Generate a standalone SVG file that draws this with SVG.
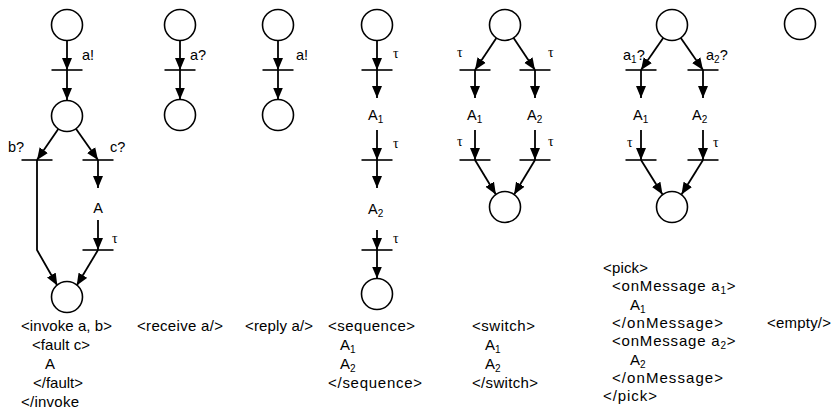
<svg xmlns="http://www.w3.org/2000/svg" width="832" height="413" viewBox="0 0 832 413">
  <defs>
    <marker id="arrow" markerUnits="userSpaceOnUse" markerWidth="12" markerHeight="11" refX="12" refY="5.5" orient="auto">
      <path d="M0,0.5 L12,5.5 L0,10.5 z" fill="#000"/>
    </marker>
  </defs>
  <style>
    .place{fill:#fff;stroke:#000;stroke-width:1.6}
    .bar{stroke:#000;stroke-width:1.6}
    .arc{fill:none;stroke:#000;stroke-width:1.8;marker-end:url(#arrow)}
    text{font-family:"Liberation Sans",Arial,sans-serif;font-size:15px;fill:#000}
    .lbl{font-size:14.5px}
    .tau{font-family:"Liberation Serif","DejaVu Serif",serif;font-size:14px}
    .sub{font-size:10px}
    .mid{text-anchor:middle}
  </style>

  <rect width="832" height="413" fill="#fff"/>

  <!-- connectors -->
  <g id="connectors">
    <!-- invoke -->
    <path class="arc" d="M67,40.5 L67,70"/>
    <path class="arc" d="M67,70 L67,100"/>
    <path class="arc" d="M58.6,128.4 L37,160"/>
    <path class="arc" d="M75.6,128.2 L98,160"/>
    <path class="arc" d="M37,160 L37,250 L57.3,285.5"/>
    <path class="arc" d="M98,160 L98,188"/>
    <path class="arc" d="M98,220 L98,250"/>
    <path class="arc" d="M98,250 L76.7,285.5"/>
    <!-- receive -->
    <path class="arc" d="M180,40.5 L180,70"/>
    <path class="arc" d="M180,70 L180,99.5"/>
    <!-- reply -->
    <path class="arc" d="M278,40.5 L278,70"/>
    <path class="arc" d="M278,70 L278,99.5"/>
    <!-- sequence -->
    <path class="arc" d="M377,40.5 L377,70"/>
    <path class="arc" d="M377,70 L377,98"/>
    <path class="arc" d="M377,130 L377,160"/>
    <path class="arc" d="M377,160 L377,188"/>
    <path class="arc" d="M377,230 L377,250"/>
    <path class="arc" d="M377,250 L377,278.5"/>
    <!-- switch -->
    <path class="arc" d="M496.7,37.5 L475,70"/>
    <path class="arc" d="M513.3,37.5 L535,70"/>
    <path class="arc" d="M475,70 L475,98"/>
    <path class="arc" d="M535,70 L535,98"/>
    <path class="arc" d="M475,130 L475,160"/>
    <path class="arc" d="M535,130 L535,160"/>
    <path class="arc" d="M475,160 L495.9,194.5"/>
    <path class="arc" d="M535,160 L514.1,194.5"/>
    <!-- pick -->
    <path class="arc" d="M663.5,37.4 L641,70"/>
    <path class="arc" d="M680.5,37.4 L703,70"/>
    <path class="arc" d="M641,70 L641,98"/>
    <path class="arc" d="M703,70 L703,98"/>
    <path class="arc" d="M641,130 L641,160"/>
    <path class="arc" d="M703,130 L703,160"/>
    <path class="arc" d="M641,160 L662.5,194.5"/>
    <path class="arc" d="M703,160 L681.5,194.5"/>
  </g>

  <!-- invoke -->
  <g id="invoke-p1"><circle class="place" cx="67" cy="25" r="15.5"/></g>
  <g id="invoke-t1"><line class="bar" x1="51.5" y1="70" x2="82.5" y2="70"/><text class="lbl" x="82" y="60">a!</text></g>
  <g id="invoke-p2"><circle class="place" cx="67" cy="116" r="15.5"/></g>
  <g id="invoke-tb"><line class="bar" x1="21.5" y1="160" x2="52.5" y2="160"/><text class="lbl" x="8" y="152">b?</text></g>
  <g id="invoke-tc"><line class="bar" x1="82.5" y1="160" x2="113.5" y2="160"/><text class="lbl" x="110" y="152">c?</text></g>
  <g id="invoke-a"><text class="lbl mid" x="98" y="213">A</text></g>
  <g id="invoke-tt"><line class="bar" x1="82.5" y1="250" x2="113.5" y2="250"/><text class="tau" x="112" y="243">τ</text></g>
  <g id="invoke-p3"><circle class="place" cx="67" cy="297" r="15.5"/></g>
  <g id="invoke-code">
    <text x="21" y="331" textLength="91" lengthAdjust="spacing">&lt;invoke a, b&gt;</text>
    <text x="32" y="350" textLength="58" lengthAdjust="spacing">&lt;fault c&gt;</text>
    <text x="45" y="369">A</text>
    <text x="33" y="388" textLength="50" lengthAdjust="spacing">&lt;/fault&gt;</text>
    <text x="21" y="407" textLength="58" lengthAdjust="spacing">&lt;/invoke</text>
  </g>

  <!-- receive -->
  <g id="receive-p1"><circle class="place" cx="180" cy="25" r="15.5"/></g>
  <g id="receive-t1"><line class="bar" x1="164.5" y1="70" x2="195.5" y2="70"/><text class="lbl" x="190" y="60">a?</text></g>
  <g id="receive-p2"><circle class="place" cx="180" cy="115" r="15.5"/></g>
  <g id="receive-code"><text x="137" y="331" textLength="86" lengthAdjust="spacing">&lt;receive a/&gt;</text></g>

  <!-- reply -->
  <g id="reply-p1"><circle class="place" cx="278" cy="25" r="15.5"/></g>
  <g id="reply-t1"><line class="bar" x1="262.5" y1="70" x2="293.5" y2="70"/><text class="lbl" x="296" y="60">a!</text></g>
  <g id="reply-p2"><circle class="place" cx="278" cy="115" r="15.5"/></g>
  <g id="reply-code"><text x="245" y="331" textLength="68" lengthAdjust="spacing">&lt;reply a/&gt;</text></g>

  <!-- sequence -->
  <g id="sequence-p1"><circle class="place" cx="377" cy="25" r="15.5"/></g>
  <g id="sequence-t1"><line class="bar" x1="361.5" y1="70" x2="392.5" y2="70"/><text class="tau" x="393" y="58">τ</text></g>
  <g id="sequence-a1"><text class="lbl" x="368" y="120">A<tspan class="sub" dy="3">1</tspan></text></g>
  <g id="sequence-t2"><line class="bar" x1="361.5" y1="160" x2="392.5" y2="160"/><text class="tau" x="393" y="148">τ</text></g>
  <g id="sequence-a2"><text class="lbl" x="368" y="214">A<tspan class="sub" dy="3">2</tspan></text></g>
  <g id="sequence-t3"><line class="bar" x1="361.5" y1="250" x2="392.5" y2="250"/><text class="tau" x="393" y="243">τ</text></g>
  <g id="sequence-p2"><circle class="place" cx="377" cy="294" r="15.5"/></g>
  <g id="sequence-code">
    <text x="328" y="331" textLength="87" lengthAdjust="spacing">&lt;sequence&gt;</text>
    <text x="340" y="350">A<tspan class="sub" dy="3">1</tspan></text>
    <text x="340" y="369">A<tspan class="sub" dy="3">2</tspan></text>
    <text x="328" y="388" textLength="94" lengthAdjust="spacing">&lt;/sequence&gt;</text>
  </g>

  <!-- switch -->
  <g id="switch-p1"><circle class="place" cx="505" cy="25" r="15.5"/></g>
  <g id="switch-t1"><line class="bar" x1="459.5" y1="70" x2="490.5" y2="70"/><text class="tau" x="457" y="57">τ</text></g>
  <g id="switch-t2"><line class="bar" x1="519.5" y1="70" x2="550.5" y2="70"/><text class="tau" x="548" y="57">τ</text></g>
  <g id="switch-a1"><text class="lbl" x="467" y="120">A<tspan class="sub" dy="3">1</tspan></text></g>
  <g id="switch-a2"><text class="lbl" x="527" y="120">A<tspan class="sub" dy="3">2</tspan></text></g>
  <g id="switch-t3"><line class="bar" x1="459.5" y1="160" x2="490.5" y2="160"/><text class="tau" x="457" y="146">τ</text></g>
  <g id="switch-t4"><line class="bar" x1="519.5" y1="160" x2="550.5" y2="160"/><text class="tau" x="548" y="146">τ</text></g>
  <g id="switch-p2"><circle class="place" cx="505" cy="207" r="15.5"/></g>
  <g id="switch-code">
    <text x="472" y="331" textLength="63" lengthAdjust="spacing">&lt;switch&gt;</text>
    <text x="485" y="350">A<tspan class="sub" dy="3">1</tspan></text>
    <text x="485" y="369">A<tspan class="sub" dy="3">2</tspan></text>
    <text x="472" y="388" textLength="66" lengthAdjust="spacing">&lt;/switch&gt;</text>
  </g>

  <!-- pick -->
  <g id="pick-p1"><circle class="place" cx="672" cy="25" r="15.5"/></g>
  <g id="pick-t1"><line class="bar" x1="625.5" y1="70" x2="656.5" y2="70"/><text class="lbl" x="623" y="60">a<tspan class="sub" dy="3">1</tspan><tspan dy="-3">?</tspan></text></g>
  <g id="pick-t2"><line class="bar" x1="687.5" y1="70" x2="718.5" y2="70"/><text class="lbl" x="706" y="60">a<tspan class="sub" dy="3">2</tspan><tspan dy="-3">?</tspan></text></g>
  <g id="pick-a1"><text class="lbl" x="633" y="120">A<tspan class="sub" dy="3">1</tspan></text></g>
  <g id="pick-a2"><text class="lbl" x="692" y="120">A<tspan class="sub" dy="3">2</tspan></text></g>
  <g id="pick-t3"><line class="bar" x1="625.5" y1="160" x2="656.5" y2="160"/><text class="tau" x="627" y="147">τ</text></g>
  <g id="pick-t4"><line class="bar" x1="687.5" y1="160" x2="718.5" y2="160"/><text class="tau" x="713" y="147">τ</text></g>
  <g id="pick-p2"><circle class="place" cx="672" cy="207" r="15.5"/></g>
  <g id="pick-code">
    <text x="603" y="273" textLength="45" lengthAdjust="spacing">&lt;pick&gt;</text>
    <text x="612" y="291.3" letter-spacing="0.8">&lt;onMessage a<tspan class="sub" dy="3">1</tspan><tspan dy="-3">&gt;</tspan></text>
    <text x="630" y="309.6">A<tspan class="sub" dy="3">1</tspan></text>
    <text x="612" y="328" textLength="111" lengthAdjust="spacing">&lt;/onMessage&gt;</text>
    <text x="612" y="346.3" letter-spacing="0.8">&lt;onMessage a<tspan class="sub" dy="3">2</tspan><tspan dy="-3">&gt;</tspan></text>
    <text x="630" y="364.6">A<tspan class="sub" dy="3">2</tspan></text>
    <text x="612" y="383" textLength="111" lengthAdjust="spacing">&lt;/onMessage&gt;</text>
    <text x="603" y="401" textLength="54" lengthAdjust="spacing">&lt;/pick&gt;</text>
  </g>

  <!-- empty -->
  <g id="empty-p1"><circle class="place" cx="800" cy="24" r="15.5"/></g>
  <g id="empty-code"><text x="767" y="328" textLength="64" lengthAdjust="spacing">&lt;empty/&gt;</text></g>
</svg>
